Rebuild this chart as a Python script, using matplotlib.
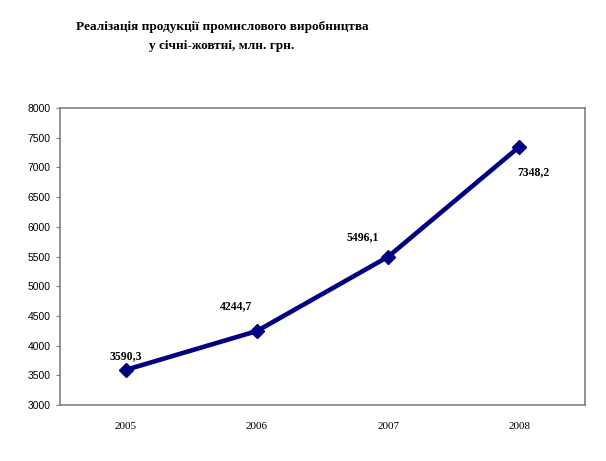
import matplotlib
matplotlib.use('Agg')
import matplotlib.pyplot as plt

years = ['2005', '2006', '2007', '2008']
values = [3590.3, 4244.7, 5496.1, 7348.2]
labels = ['3590,3', '4244,7', '5496,1', '7348,2']
offsets = [(0, 10), (-15, 18), (-18, 14), (10, -18)]

fig = plt.figure(figsize=(6.06, 4.61), dpi=100)
ax = fig.add_axes([60/606, 56/461, 525/606, 297/461])

xs = [i + 0.5 for i in range(len(years))]
ax.plot(xs, values, color='#000080', lw=3.3, marker='D', ms=7, solid_joinstyle='miter')

for x, v, t, off in zip(xs, values, labels, offsets):
    ax.annotate(t, (x, v), xytext=off, textcoords='offset points', ha='center', va='center',
                fontsize=8.5, fontweight='bold', family='Liberation Serif')

ax.set_xlim(0, 4)
ax.set_ylim(3000, 8000)
ax.set_yticks(range(3000, 8001, 500))
ax.set_xticks(xs)
ax.set_xticklabels(years, family='Liberation Serif', fontsize=8)
for lb in ax.get_yticklabels():
    lb.set_family('Liberation Sans')
    lb.set_fontsize(7.5)
ax.tick_params(axis='x', length=0, pad=12)
ax.tick_params(axis='y', length=3, color='#808080', pad=4)
for s in ax.spines.values():
    s.set_color('#808080')
    s.set_linewidth(1.2)

fig.text(222/606, 1 - 27/461, 'Реалізація продукції промислового виробництва', ha='center', va='center',
         fontsize=9.5, fontweight='bold', family='Liberation Serif')
fig.text(222/606, 1 - 46/461, 'у січні-жовтні, млн. грн.', ha='center', va='center',
         fontsize=9.5, fontweight='bold', family='Liberation Serif')

fig.savefig('out.png', dpi=100)
